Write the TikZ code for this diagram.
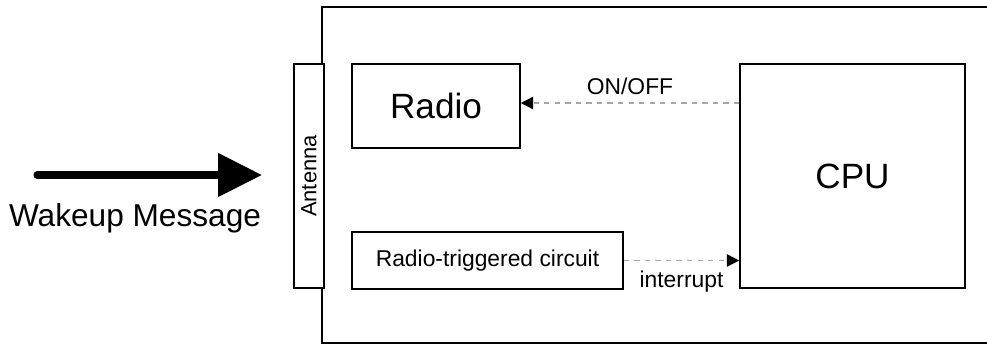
\documentclass[tikz,border=0pt]{standalone}
\usepackage{fontspec}
\setmainfont{Liberation Sans}
\usetikzlibrary{arrows.meta}

\tikzset{
    block/.style={draw, line width=0.9pt, inner sep=0pt},
    signal/.style={draw=gray!70, dashed, line width=0.8pt, -{Triangle[length=7pt,width=7pt,color=black]}},
}

\begin{document}
\begin{tikzpicture}[x=0.02cm, y=-0.02cm]
    \useasboundingbox (0, 0) rectangle (987, 345);

    % Outer device frame (open to the right)
    \draw[line width=0.9pt] (987, 7) -- (322, 7) -- (322, 343) -- (987, 343);

    % Antenna strip
    \node[block, fill=white, rotate=90, minimum width=4.48cm, minimum height=0.6cm,
          font=\fontsize{12.5}{14}\selectfont] (antenna) at (309, 176) {Antenna};

    % Blocks inside the device
    \node[block, minimum width=3.36cm, minimum height=1.68cm,
          font=\fontsize{20}{24}\selectfont] (radio) at (436, 106) {Radio};
    \node[block, minimum width=4.5cm, minimum height=4.48cm,
          font=\fontsize{20}{24}\selectfont] (cpu) at (852.5, 176) {CPU};
    \node[block, minimum width=5.42cm, minimum height=1.14cm,
          font=\fontsize{13}{15}\selectfont] (circuit) at (487.5, 260.5) {Radio-triggered circuit};

    % Control signals
    \draw[signal] (cpu.west |- 0, 103) -- (radio.east |- 0, 103)
        node[midway, above=1pt, font=\fontsize{13}{15}\selectfont] (onoff) {ON/OFF};
    \draw[signal] (circuit.east) -- (cpu.west |- circuit.east)
        node[midway, below=2pt, font=\fontsize{13}{15}\selectfont] (irq) {interrupt};

    % Incoming wakeup message
    \coordinate (wtail) at (37, 175);
    \coordinate (whead) at (262, 175);
    \draw[line width=4pt, line cap=round, -{Triangle[length=25pt,width=24pt]}] (wtail) -- (whead);
    \node[font=\fontsize{18}{21}\selectfont] (msg) at (135, 218) {Wakeup Message};

\end{tikzpicture}
\end{document}
